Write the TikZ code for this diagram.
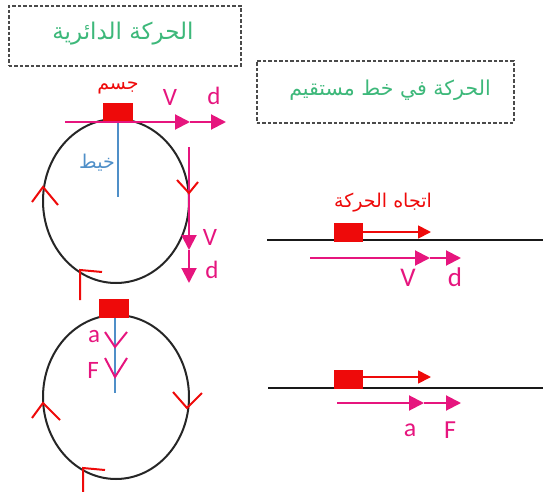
\documentclass[tikz,border=0pt]{standalone}
\usepackage{fontspec}
\setmainfont{Carlito}
\newfontfamily\arabicfont[Script=Arabic]{DejaVu Sans}
\TeXXeTstate=1
\usetikzlibrary{arrows.meta,shapes.geometric}
\definecolor{mag}{HTML}{E6157E}
\definecolor{rd}{HTML}{EE0A0A}
\definecolor{bl}{HTML}{4F8FC8}
\definecolor{gr}{HTML}{3DB87A}
\definecolor{dk}{HTML}{4A4A4A}
\tikzset{
  titlebox/.style={draw=dk, dashed, dash pattern=on 3.5pt off 2pt, line width=1.6pt, minimum height=#1},
  titlebox/.default=60pt,
  magarrow/.style={draw=mag, line width=2pt, -{Triangle[length=15pt,width=15pt]}},
  redarrow/.style={draw=rd, line width=1.8pt, -{Triangle[length=13pt,width=13pt]}},
  body/.style={fill=rd, draw=rd, inner sep=0pt},
  orbit/.style={draw=black!85, line width=2pt},
  chev/.style={draw=rd, line width=2pt},
  mchev/.style={draw=mag, line width=2pt},
  lat/.style={text=mag, font=\fontsize{25}{27}\selectfont, inner sep=0pt},
  arlbl/.style={inner sep=0pt, font=\arabicfont\fontsize{19}{21}\selectfont},
}
\begin{document}
\begin{tikzpicture}[x=1pt,y=-1pt]
\useasboundingbox (0,0) rectangle (543,492);
% title boxes
\node[titlebox=60pt, minimum width=232pt, anchor=north west] (t1) at (8,5) {};
\node[text=gr, font=\arabicfont\fontsize{23}{26}\selectfont] (t1txt) at (123,34) {\beginR الحركة الدائرية\endR};
\node[titlebox=62pt, minimum width=257pt, anchor=north west] (t2) at (256,60) {};
\node[text=gr, font=\arabicfont\fontsize{20.5}{24}\selectfont] (t2txt) at (390,90) {\beginR الحركة في خط مستقيم\endR};

% ---------- upper circle ----------
\node[orbit, ellipse, minimum width=146pt, minimum height=164pt, inner sep=0pt, draw] (c1) at (116,201) {};
\coordinate (s1) at (118,122);
\coordinate (s1e) at (118,197);
\draw[draw=bl, line width=1.8pt] (s1) -- (s1e);
\node[arlbl, text=bl] (khayt) at (97,163) {\beginR خيط\endR};
\node[body, minimum width=29pt, minimum height=19pt, anchor=south] (b1) at (118,122) {};
\node[arlbl, text=rd] (jism1) at (118,88) {\beginR جسم\endR};
% horizontal V,d
\coordinate (h0) at (65,122);
\coordinate (h1) at (190,122);
\coordinate (h2) at (226,122);
\draw[magarrow] (h0) -- (h1);
\draw[magarrow] (h1) -- (h2);
\node[lat] (V1) at (170,97) {V};
\node[lat] (d1) at (214,96) {d};
% vertical V,d
\coordinate (v0) at (189,147);
\coordinate (v1) at (189,250);
\coordinate (v2) at (189,283);
\draw[magarrow] (v0) -- (v1);
\draw[magarrow] (v1) -- (v2);
\node[lat] (V2) at (210,237) {V};
\node[lat] (d2) at (212,270) {d};
% direction chevrons
\coordinate (ra) at (189,193);
\draw[chev] (177,180) -- (ra) -- (198,182);
\coordinate (la) at (43,187);
\draw[chev] (32,202) -- (la) -- (58,205);
\coordinate (ba) at (80,270);
\draw[chev] (102,272) -- (ba) -- (80,300);

% ---------- lower circle ----------
\node[orbit, ellipse, minimum width=146pt, minimum height=164pt, inner sep=0pt, draw] (c2) at (116,397) {};
\coordinate (s2) at (115,317);
\coordinate (s2e) at (115,393);
\draw[draw=bl, line width=1.8pt] (s2) -- (s2e);
\node[body, minimum width=29pt, minimum height=18pt, anchor=south] (b2) at (114,317) {};
\coordinate (ca) at (115,347);
\draw[mchev] (105,332) -- (ca) -- (127,332);
\coordinate (cf) at (115,377);
\draw[mchev] (105,358) -- (cf) -- (127,358);
\node[lat] (a1) at (94,337) {a};
\node[lat] (F1) at (93,370) {F};
\coordinate (ra2) at (187,408);
\draw[chev] (173,392) -- (ra2) -- (202,393);
\coordinate (la2) at (43,403);
\draw[chev] (32,418) -- (la2) -- (60,420);
\coordinate (ba2) at (83,468);
\draw[chev] (105,470) -- (ba2) -- (83,492);

% ---------- upper straight line ----------
\coordinate (g1a) at (267,240);
\coordinate (g1b) at (543,240);
\draw[line width=2.2pt, draw=black!90] (g1a) -- (g1b);
\node[body, minimum width=28pt, minimum height=18pt, anchor=south west] (b3) at (334,241) {};
\coordinate (r3) at (431,232);
\draw[redarrow] (b3.east |- r3) -- (r3);
\node[arlbl, text=rd] (dir) at (383,203) {\beginR اتجاه الحركة\endR};
\coordinate (m0) at (310,258);
\coordinate (m1) at (430,258);
\coordinate (m2) at (461,258);
\draw[magarrow] (m0) -- (m1);
\draw[magarrow] (m1) -- (m2);
\node[lat, font=\fontsize{27}{29}\selectfont] (V3) at (408,278) {V};
\node[lat, font=\fontsize{27}{29}\selectfont] (d3) at (455,277) {d};

% ---------- lower straight line ----------
\coordinate (g2a) at (268,388);
\coordinate (g2b) at (543,388);
\draw[line width=2.2pt, draw=black!90] (g2a) -- (g2b);
\node[body, minimum width=28pt, minimum height=18pt, anchor=south west] (b4) at (334,388) {};
\coordinate (r4) at (431,377);
\draw[redarrow] (b4.east |- r4) -- (r4);
\coordinate (n0) at (337,403);
\coordinate (n1) at (424,403);
\coordinate (n2) at (461,403);
\draw[magarrow] (n0) -- (n1);
\draw[magarrow] (n1) -- (n2);
\node[lat, font=\fontsize{26}{28}\selectfont] (a2) at (410,430) {a};
\node[lat, font=\fontsize{26}{28}\selectfont] (F2) at (450,430) {F};
\end{tikzpicture}
\end{document}
